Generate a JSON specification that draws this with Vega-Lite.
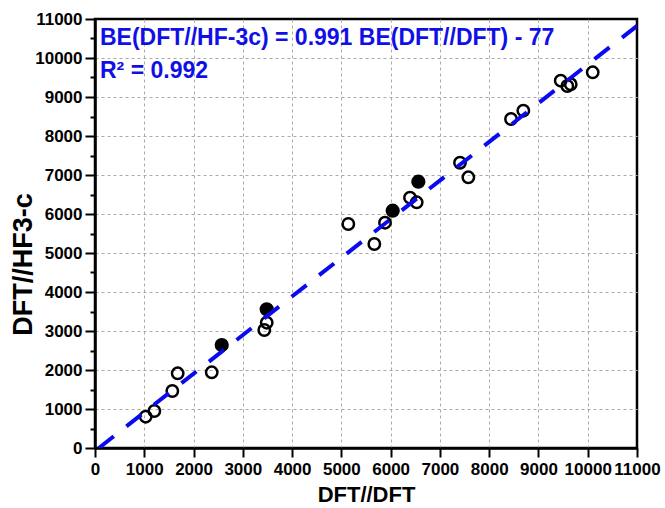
{
  "$schema": "https://vega.github.io/schema/vega-lite/v6.json",
  "width": 542,
  "height": 429,
  "autosize": {"type": "none"},
  "padding": {"left": 95, "top": 19, "right": 28, "bottom": 60},
  "background": "white",
  "config": {
    "view": {"stroke": "black", "strokeWidth": 2.5},
    "font": "Liberation Sans"
  },
  "datasets": {
    "points": [
      {"x": 1029, "y": 803, "kind": "open"},
      {"x": 1204, "y": 949, "kind": "open"},
      {"x": 1569, "y": 1462, "kind": "open"},
      {"x": 1678, "y": 1915, "kind": "open"},
      {"x": 2369, "y": 1941, "kind": "open"},
      {"x": 3436, "y": 3026, "kind": "open"},
      {"x": 3485, "y": 3213, "kind": "open"},
      {"x": 5141, "y": 5744, "kind": "open"},
      {"x": 5669, "y": 5231, "kind": "open"},
      {"x": 5886, "y": 5777, "kind": "open"},
      {"x": 6393, "y": 6418, "kind": "open"},
      {"x": 6529, "y": 6300, "kind": "open"},
      {"x": 7408, "y": 7315, "kind": "open"},
      {"x": 7577, "y": 6941, "kind": "open"},
      {"x": 8443, "y": 8436, "kind": "open"},
      {"x": 8693, "y": 8649, "kind": "open"},
      {"x": 9452, "y": 9418, "kind": "open"},
      {"x": 9586, "y": 9282, "kind": "open"},
      {"x": 9655, "y": 9326, "kind": "open"},
      {"x": 10101, "y": 9633, "kind": "open"},
      {"x": 2572, "y": 2641, "kind": "filled"},
      {"x": 3485, "y": 3556, "kind": "filled"},
      {"x": 6042, "y": 6085, "kind": "filled"},
      {"x": 6562, "y": 6828, "kind": "filled"}
    ],
    "fit": [
      {"x": 78, "y": 0},
      {"x": 11000, "y": 10824}
    ],
    "labels": [
      {"x": 101, "y": 10333, "text": "BE(DFT//HF-3c) = 0.991 BE(DFT//DFT) - 77"},
      {"x": 101, "y": 9487, "text": "R² = 0.992"}
    ]
  },
  "resolve": {"axis": {"y": "independent"}},
  "layer": [
    {
      "data": {"name": "points"},
      "transform": [{"filter": "datum.kind === 'open'"}],
      "mark": {"type": "point", "shape": "circle", "filled": false, "stroke": "black", "strokeWidth": 2.5, "size": 130, "opacity": 1},
      "encoding": {
        "x": {
          "field": "x", "type": "quantitative",
          "scale": {"domain": [0, 11000], "nice": false, "zero": false},
          "axis": {
            "values": [0, 500, 1000, 1500, 2000, 2500, 3000, 3500, 4000, 4500, 5000, 5500, 6000, 6500, 7000, 7500, 8000, 8500, 9000, 9500, 10000, 10500, 11000],
            "format": "d",
            "labelExpr": "datum.value % 1000 === 0 ? datum.label : ''",
            "tickSize": {"condition": {"test": "datum.value % 1000 === 0", "value": 9}, "value": 5},
            "grid": true,
            "gridDash": [3, 3],
            "gridColor": "#aaaaaa",
            "gridWidth": 1,
            "gridOpacity": {"condition": {"test": "datum.value % 1000 === 0 && datum.value > 0 && datum.value < 11000", "value": 1}, "value": 0},
            "domainColor": "black",
            "domainWidth": 2.5,
            "tickColor": "black",
            "tickWidth": 2,
            "labelFont": "Liberation Sans",
            "labelFontWeight": "bold",
            "labelFontSize": 17,
            "labelColor": "black",
            "labelFlush": false,
            "labelOverlap": false,
            "labelPadding": 4,
            "title": "DFT//DFT",
            "titleFont": "Liberation Sans",
            "titleFontSize": 22,
            "titleFontWeight": "bold",
            "titleColor": "black",
            "titlePadding": 7
          }
        },
        "y": {
          "field": "y", "type": "quantitative",
          "scale": {"domain": [0, 11000], "nice": false, "zero": false},
          "axis": {
            "orient": "left",
            "values": [0, 1000, 2000, 3000, 4000, 5000, 6000, 7000, 8000, 9000, 10000, 11000],
            "format": "d",
            "tickSize": 10,
            "grid": true,
            "gridDash": [3, 3],
            "gridColor": "#aaaaaa",
            "gridWidth": 1,
            "gridOpacity": {"condition": {"test": "datum.value > 0 && datum.value < 11000", "value": 1}, "value": 0},
            "domainColor": "black",
            "domainWidth": 2.5,
            "tickColor": "black",
            "tickWidth": 2,
            "labelFont": "Liberation Sans",
            "labelFontWeight": "bold",
            "labelFontSize": 17,
            "labelColor": "black",
            "labelOverlap": false,
            "labelFlush": false,
            "labelPadding": 3,
            "title": "DFT//HF3-c",
            "titleFont": "Liberation Sans",
            "titleFontSize": 27,
            "titleFontWeight": "bold",
            "titleColor": "black",
            "titleAngle": -90,
            "titleBaseline": "middle",
            "titleAlign": "center",
            "titleX": -72,
            "titleY": 245
          }
        }
      }
    },
    {
      "data": {"name": "points"},
      "transform": [{"filter": "datum.kind === 'filled'"}],
      "mark": {"type": "point", "shape": "circle", "filled": true, "fill": "black", "stroke": "black", "strokeWidth": 2, "size": 150, "opacity": 1},
      "encoding": {
        "x": {"field": "x", "type": "quantitative"},
        "y": {
          "field": "y", "type": "quantitative",
          "axis": {
            "orient": "left",
            "values": [500, 1500, 2500, 3500, 4500, 5500, 6500, 7500, 8500, 9500, 10500],
            "labels": false,
            "domain": false,
            "grid": false,
            "ticks": true,
            "tickSize": 5,
            "tickColor": "black",
            "tickWidth": 2,
            "title": null
          }
        }
      }
    },
    {
      "data": {"name": "fit"},
      "mark": {"type": "line", "color": "#0a0af0", "strokeWidth": 4, "strokeDash": [19, 16], "clip": true},
      "encoding": {
        "x": {"field": "x", "type": "quantitative"},
        "y": {"field": "y", "type": "quantitative", "axis": null}
      }
    },
    {
      "data": {"name": "labels"},
      "mark": {"type": "text", "align": "left", "baseline": "alphabetic", "font": "Liberation Sans", "fontSize": 23, "fontWeight": "bold", "color": "#1010e6"},
      "encoding": {
        "x": {"field": "x", "type": "quantitative"},
        "y": {"field": "y", "type": "quantitative", "axis": null},
        "text": {"field": "text", "type": "nominal"}
      }
    }
  ]
}
